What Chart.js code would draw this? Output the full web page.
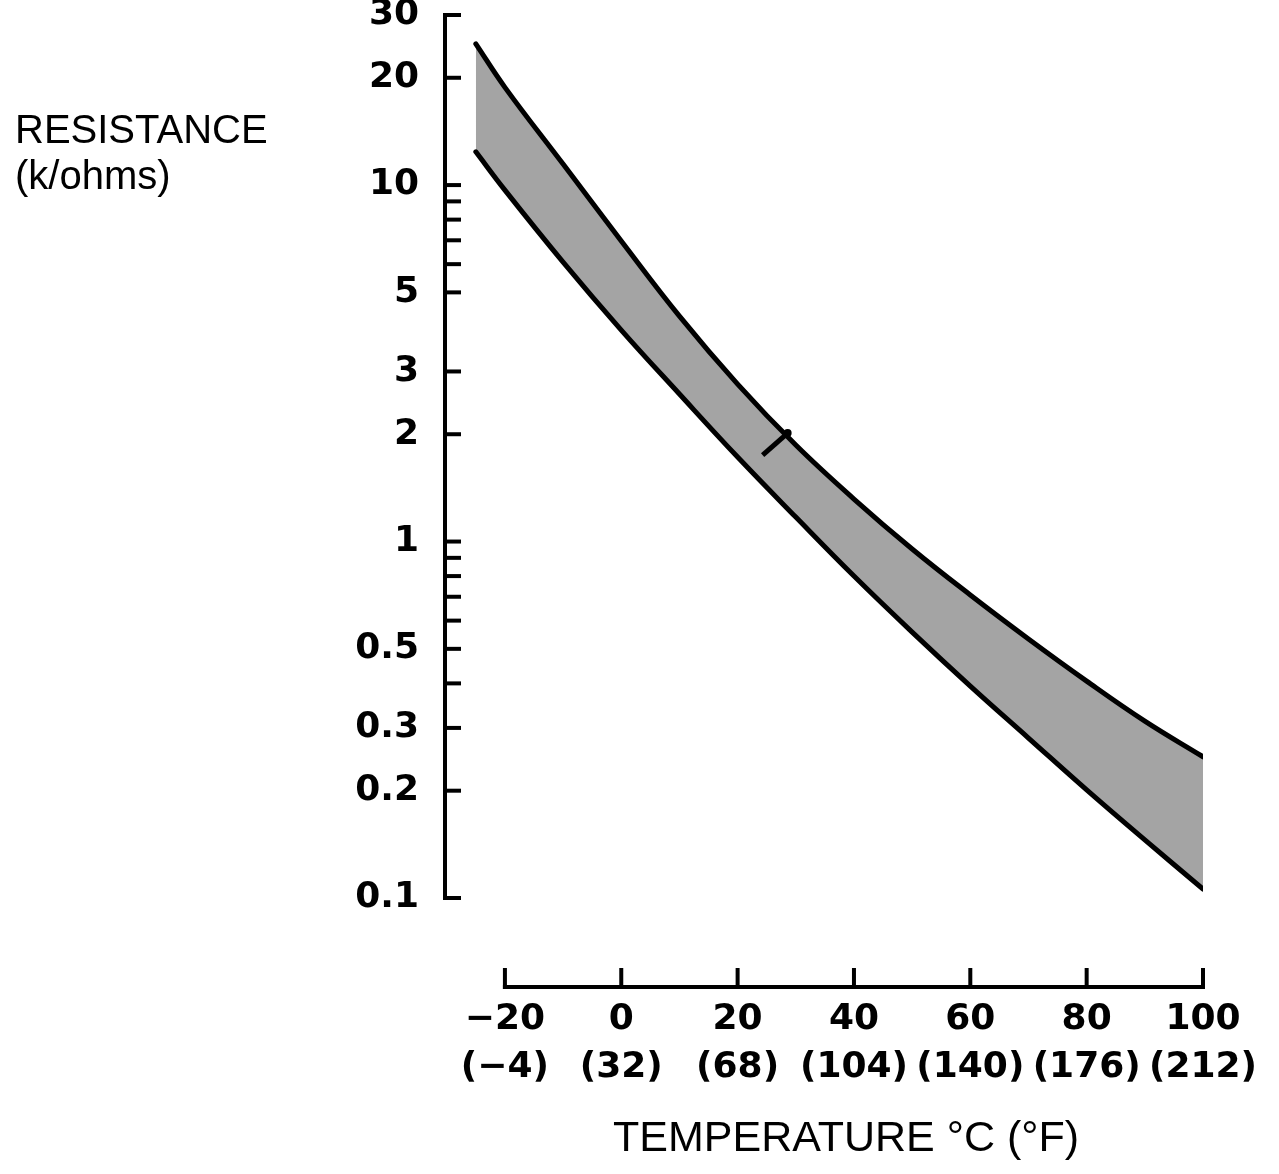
<!DOCTYPE html>
<html>
<head>
<meta charset="utf-8">
<script src="https://cdn.jsdelivr.net/npm/chart.js@4/dist/chart.umd.min.js"></script>
<style>
  html, body { margin: 0; padding: 0; background: #fff; }
  #wrap { width: 1279px; height: 1174px; }
</style>
</head>
<body>
<div id="wrap"><canvas id="c" width="1279" height="1174"></canvas></div>
<script>
// ---- data ----
const tempC = [-25, -20, -10, 0, 10, 20, 30, 40, 50, 60, 70, 80, 90, 100];
const upperK = [24.9, 18.8, 11.45, 6.97, 4.29, 2.765, 1.865, 1.316, 0.953, 0.708, 0.533, 0.406, 0.3135, 0.249];
const lowerK = [12.4, 9.68, 6.08, 3.92, 2.593, 1.726, 1.171, 0.800, 0.557, 0.393, 0.281, 0.201, 0.1455, 0.106];
const markC = [24.3, 28.6];
const markK = [1.748, 2.015];

const yTickValues = [0.1, 0.2, 0.3, 0.4, 0.5, 0.6, 0.7, 0.8, 0.9, 1, 2, 3, 5, 6, 7, 8, 9, 10, 20, 30];
const yLabelValues = [0.1, 0.2, 0.3, 0.5, 1, 2, 3, 5, 10, 20, 30];
const xTickValues = [-20, 0, 20, 40, 60, 80, 100];
const xTickLabelsC = ['\u221220', '0', '20', '40', '60', '80', '100'];
const xTickLabelsF = ['(\u22124)', '(32)', '(68)', '(104)', '(140)', '(176)', '(212)'];
const yTitleLines = ['RESISTANCE', '(k/ohms)'];
const xTitle = 'TEMPERATURE \u00B0C (\u00B0F)';

const toXY = (xs, ys) => xs.map((x, i) => ({ x: x, y: ys[i] }));

const customAxes = {
  id: 'customAxes',
  afterDraw(chart) {
    const ctx = chart.ctx;
    const ys = chart.scales.y, xs = chart.scales.x;
    const area = chart.chartArea;
    ctx.save();
    ctx.strokeStyle = '#000';
    ctx.lineWidth = 4;
    ctx.lineCap = 'butt';
    // inner ticks on the y axis
    ys.ticks.forEach(t => {
      const py = ys.getPixelForValue(t.value);
      ctx.beginPath();
      ctx.moveTo(area.left - 2, py);
      ctx.lineTo(area.left + 16, py);
      ctx.stroke();
    });
    // detached temperature axis
    const axisY = area.bottom + 89;
    const x0 = xs.getPixelForValue(xTickValues[0]);
    const x1 = xs.getPixelForValue(xTickValues[xTickValues.length - 1]);
    ctx.beginPath();
    ctx.moveTo(x0 - 2, axisY);
    ctx.lineTo(x1 + 2, axisY);
    ctx.stroke();
    xTickValues.forEach(v => {
      const px = xs.getPixelForValue(v);
      ctx.beginPath();
      ctx.moveTo(px, axisY + 2);
      ctx.lineTo(px, axisY - 19);
      ctx.stroke();
    });
    // titles
    ctx.fillStyle = '#000';
    ctx.textAlign = 'left';
    ctx.textBaseline = 'alphabetic';
    ctx.font = '40px "Liberation Sans", Arial, sans-serif';
    ctx.fillText(yTitleLines[0], 15, 143);
    ctx.fillText(yTitleLines[1], 15, 189);
    ctx.textAlign = 'center';
    ctx.font = '43px "Liberation Sans", Arial, sans-serif';
    ctx.fillText(xTitle, 846, 1151);
    ctx.restore();
  }
};

new Chart(document.getElementById('c'), {
  type: 'line',
  data: {
    datasets: [
      {
        label: 'upper',
        data: toXY(tempC, upperK),
        borderColor: '#000',
        borderWidth: 5,
        backgroundColor: '#a4a4a4',
        fill: '+1',
        pointRadius: 0,
        tension: 0.4,
        borderCapStyle: 'round'
      },
      {
        label: 'lower',
        data: toXY(tempC, lowerK),
        borderColor: '#000',
        borderWidth: 5,
        fill: false,
        pointRadius: 0,
        tension: 0.4,
        borderCapStyle: 'round'
      },
      {
        label: 'mark',
        data: toXY(markC, markK),
        borderColor: '#000',
        backgroundColor: '#000',
        borderWidth: 5,
        fill: false,
        pointRadius: [0, 4],
        pointBorderWidth: 0
      }
    ]
  },
  options: {
    responsive: false,
    animation: false,
    events: [],
    layout: { padding: { left: 0, right: 76, top: 15, bottom: 0 } },
    plugins: {
      legend: { display: false },
      tooltip: { enabled: false },
      title: { display: false },
      filler: { drawTime: 'beforeDatasetsDraw' }
    },
    scales: {
      x: {
        type: 'linear',
        min: -30.3,
        max: 100,
        grid: { display: false, drawTicks: false },
        border: { display: false },
        afterBuildTicks: s => { s.ticks = xTickValues.map(v => ({ value: v })); },
        afterFit: s => { s.height = 276; s.paddingLeft = 0; s.paddingRight = 0; },
        ticks: {
          autoSkip: false,
          maxRotation: 0,
          padding: 97,
          color: '#000',
          font: { family: '"DejaVu Sans"', size: 36, weight: 'bold', lineHeight: 1.35 },
          callback: (value) => {
            const i = xTickValues.indexOf(value);
            return i >= 0 ? [xTickLabelsC[i], xTickLabelsF[i]] : '';
          }
        }
      },
      y: {
        type: 'logarithmic',
        min: 0.1,
        max: 30,
        grid: { display: false, drawTicks: false },
        border: { display: true, color: '#000', width: 4 },
        afterBuildTicks: s => { s.ticks = yTickValues.map(v => ({ value: v })); },
        afterFit: s => { s.width = 445; s.paddingTop = 0; s.paddingBottom = 0; },
        ticks: {
          autoSkip: false,
          padding: 26,
          color: '#000',
          font: { family: '"DejaVu Sans"', size: 36, weight: 'bold' },
          callback: (value) => yLabelValues.includes(value) ? String(value) : ''
        }
      }
    }
  },
  plugins: [customAxes]
});
</script>
</body>
</html>
